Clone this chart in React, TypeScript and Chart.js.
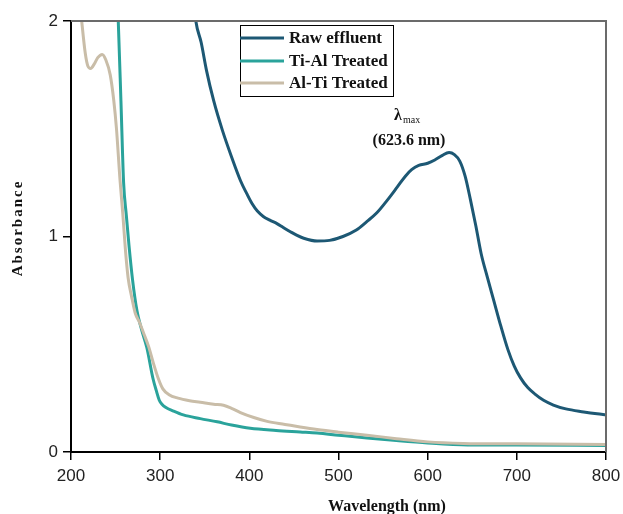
import React, { useEffect, useRef } from "react";
import { Chart, registerables } from "chart.js";

Chart.register(...registerables);

// Wavelength (nm) / absorbance pairs
const rawWavelength = [335, 340, 346, 352, 360, 370, 380, 390, 397, 403, 409, 416, 423, 431, 438, 446, 453, 461, 476, 490, 505, 520, 532, 543, 555, 566, 575, 582, 590, 600, 608, 616, 624, 630, 636, 642, 648, 654, 660, 667, 674, 682, 690, 697, 704, 712, 720, 730, 741, 755, 775, 790, 800];
const rawAbsorbance = [2.2, 2.0, 1.9, 1.77, 1.63, 1.49, 1.37, 1.26, 1.2, 1.153, 1.118, 1.092, 1.076, 1.06, 1.042, 1.022, 1.006, 0.992, 0.979, 0.982, 1.0, 1.03, 1.07, 1.11, 1.17, 1.23, 1.28, 1.31, 1.33, 1.34, 1.355, 1.375, 1.39, 1.38, 1.35, 1.28, 1.17, 1.05, 0.92, 0.81, 0.705, 0.585, 0.475, 0.4, 0.345, 0.3, 0.27, 0.24, 0.218, 0.2, 0.186, 0.177, 0.172];

const tiAlWavelength = [250, 253, 256, 259, 262, 265, 269, 274, 279, 285, 292, 296, 299, 302, 306, 315, 326, 345, 364, 380, 401, 430, 457, 476, 500, 532, 565, 600, 645, 700, 800];
const tiAlAbsorbance = [2.3, 2.0, 1.63, 1.25, 1.1, 0.96, 0.8, 0.655, 0.57, 0.485, 0.34, 0.28, 0.24, 0.222, 0.208, 0.19, 0.172, 0.155, 0.14, 0.125, 0.11, 0.1, 0.093, 0.088, 0.078, 0.065, 0.053, 0.042, 0.033, 0.032, 0.03];

const alTiWavelength = [205, 212, 216, 219, 222, 226, 230, 235, 239, 244, 248, 251, 255, 258, 261, 264, 268, 272, 277, 282, 287, 292, 298, 303, 310, 320, 333, 345, 360, 371, 380, 390, 405, 420, 440, 457, 476, 500, 532, 565, 600, 640, 700, 800];
const alTiAbsorbance = [2.3, 2.0, 1.85, 1.79, 1.78, 1.8, 1.83, 1.845, 1.82, 1.75, 1.63, 1.5, 1.26, 1.11, 0.94, 0.81, 0.72, 0.645, 0.6, 0.545, 0.49, 0.418, 0.34, 0.293, 0.266, 0.25, 0.238, 0.231, 0.222, 0.217, 0.203, 0.183, 0.16, 0.142, 0.128, 0.116, 0.104, 0.092, 0.078, 0.062, 0.047, 0.04, 0.038, 0.035];

const seriesNames = ["Raw effluent", "Ti-Al Treated", "Al-Ti Treated"];
const seriesColors = ["#1d5874", "#2aa39b", "#c9bda8"];

const xTicks = [200, 300, 400, 500, 600, 700, 800];
const yTicks = [0, 1, 2];

const peakLabel = "(623.6 nm)";

const toPoints = (xs: number[], ys: number[]) => xs.map((x, i) => ({ x, y: ys[i] }));

const overlayPlugin = {
  id: "overlay",
  afterDraw(chart: any) {
    const { ctx, chartArea } = chart;
    const { left, top, right, bottom } = chartArea;
    ctx.save();
    // top and right frame
    ctx.strokeStyle = "#6b6b6b";
    ctx.lineWidth = 2;
    ctx.beginPath();
    ctx.moveTo(left, top);
    ctx.lineTo(right, top);
    ctx.lineTo(right, bottom);
    ctx.stroke();

    // legend
    const lx = left + 169;
    const ly = top + 4;
    const lw = 153;
    const lh = 71;
    ctx.fillStyle = "#fff";
    ctx.fillRect(lx, ly, lw, lh);
    ctx.strokeStyle = "#000";
    ctx.lineWidth = 1;
    ctx.strokeRect(lx + 0.5, ly + 0.5, lw, lh);
    const rowYs = [ly + 13, ly + 36, ly + 58];
    ctx.font = "bold 17px 'Liberation Serif', serif";
    ctx.textBaseline = "middle";
    ctx.textAlign = "left";
    seriesNames.forEach((name, i) => {
      ctx.strokeStyle = seriesColors[i];
      ctx.lineWidth = 3;
      ctx.beginPath();
      ctx.moveTo(lx, rowYs[i]);
      ctx.lineTo(lx + 44, rowYs[i]);
      ctx.stroke();
      ctx.fillStyle = "#111";
      ctx.fillText(name, lx + 49, rowYs[i] + 1);
    });

    // annotation
    const ax = left + 338;
    ctx.fillStyle = "#111";
    ctx.textBaseline = "alphabetic";
    ctx.font = "bold 16px 'Liberation Serif', serif";
    ctx.textAlign = "left";
    ctx.fillText("λ", ax - 15, top + 99);
    ctx.font = "10px 'Liberation Serif', serif";
    ctx.fillText("max", ax - 6, top + 102);
    ctx.font = "bold 16px 'Liberation Serif', serif";
    ctx.textAlign = "center";
    ctx.fillText(peakLabel, ax, top + 124);

    // axis titles
    ctx.font = "bold 16px 'Liberation Serif', serif";
    ctx.textAlign = "center";
    ctx.textBaseline = "middle";
    ctx.fillText("Wavelength (nm)", left + 316, bottom + 55);
    ctx.save();
    ctx.translate(18, top + 207);
    ctx.rotate(-Math.PI / 2);
    try {
      (ctx as any).letterSpacing = "2px";
    } catch (e) {}
    ctx.font = "bold 15px 'Liberation Serif', serif";
    ctx.fillText("Absorbance", 0, 0);
    ctx.restore();
    ctx.restore();
  },
};

export default function App() {
  const ref = useRef<HTMLCanvasElement | null>(null);
  useEffect(() => {
    if (!ref.current) return;
    const tickFont = { family: "'Liberation Sans', Arial, sans-serif", size: 17 };
    const chart = new Chart(ref.current, {
      type: "line",
      data: {
        datasets: [
          { label: seriesNames[0], data: toPoints(rawWavelength, rawAbsorbance), borderColor: seriesColors[0], order: 2 },
          { label: seriesNames[1], data: toPoints(tiAlWavelength, tiAlAbsorbance), borderColor: seriesColors[1], order: 1 },
          { label: seriesNames[2], data: toPoints(alTiWavelength, alTiAbsorbance), borderColor: seriesColors[2], order: 0 },
        ].map((d) => ({
          ...d,
          borderWidth: 3,
          pointRadius: 0,
          fill: false,
          cubicInterpolationMode: "monotone" as const,
        })),
      },
      options: {
        animation: false,
        responsive: false,
        devicePixelRatio: 1,
        layout: { padding: { left: 0, top: 21, right: 17, bottom: 0 } },
        plugins: { legend: { display: false }, tooltip: { enabled: false } },
        scales: {
          x: {
            type: "linear",
            min: 200,
            max: 800,
            afterBuildTicks: (s: any) => {
              s.ticks = xTicks.map((v) => ({ value: v }));
            },
            afterFit: (s: any) => {
              s.height = 62;
              s.paddingLeft = 0;
              s.paddingRight = 0;
            },
            ticks: { font: tickFont, color: "#222", padding: 6, maxRotation: 0 },
            grid: { drawOnChartArea: false, tickLength: 8, color: "#000", lineWidth: 1.5 },
            border: { display: true, color: "#000", width: 2 },
          },
          y: {
            type: "linear",
            min: 0,
            max: 2,
            afterBuildTicks: (s: any) => {
              s.ticks = yTicks.map((v) => ({ value: v }));
            },
            afterFit: (s: any) => {
              s.width = 71;
              s.paddingTop = 0;
              s.paddingBottom = 0;
            },
            ticks: { font: tickFont, color: "#222", padding: 5 },
            grid: { drawOnChartArea: false, tickLength: 8, color: "#000", lineWidth: 1.5 },
            border: { display: true, color: "#000", width: 2 },
          },
        },
      },
      plugins: [overlayPlugin],
    });
    return () => chart.destroy();
  }, []);
  return (
    <div style={{ position: "absolute", left: 0, top: 0, width: 623, height: 514, background: "#fff" }}>
      <canvas ref={ref} width={623} height={514} />
    </div>
  );
}
